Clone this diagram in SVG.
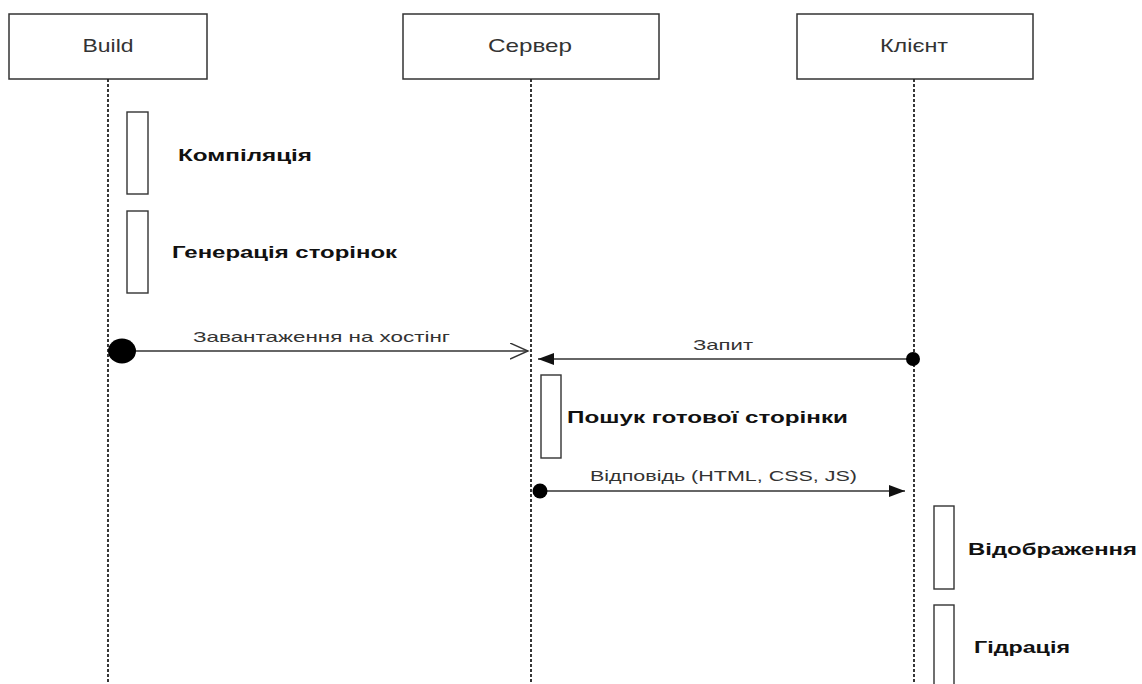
<svg xmlns="http://www.w3.org/2000/svg" width="1142" height="684" viewBox="0 0 1142 684">
<style>
.box{fill:#fff;stroke:#333;stroke-width:1.5}
.act{fill:#fff;stroke:#333;stroke-width:1.4}
.life{stroke:#222;stroke-width:1.8;stroke-dasharray:3 2;fill:none}
.msg{stroke:#333;stroke-width:1.4;fill:none}
.hd{font-family:"Liberation Sans",Arial,sans-serif;font-size:19px;fill:#333;text-anchor:middle}
.lbl{font-family:"Liberation Sans",Arial,sans-serif;font-size:15px;fill:#333}
.act-lbl{font-family:"Liberation Sans",Arial,sans-serif;font-size:17px;font-weight:bold;fill:#111}
</style>
<defs>
<marker id="open" markerWidth="20" markerHeight="20" refX="18" refY="8" orient="auto" markerUnits="userSpaceOnUse">
<path d="M0,0 L18,8 L0,16" fill="none" stroke="#333" stroke-width="1.4"/>
</marker>
<marker id="fill" markerWidth="20" markerHeight="14" refX="16" refY="6" orient="auto" markerUnits="userSpaceOnUse">
<path d="M0,0 L16,6 L0,12 Z" fill="#111"/>
</marker>
</defs>
<rect width="1142" height="684" fill="#fff"/>

<g id="build">
<rect class="box" x="9" y="14" width="198" height="65"/>
<text class="hd" x="108" y="52" textLength="51" lengthAdjust="spacingAndGlyphs">Build</text>
<line class="life" x1="108" y1="79" x2="108" y2="684"/>
</g>
<g id="server">
<rect class="box" x="403" y="14" width="256" height="65"/>
<text class="hd" x="530" y="52" textLength="84" lengthAdjust="spacingAndGlyphs">Сервер</text>
<line class="life" x1="531" y1="79" x2="531" y2="684"/>
</g>
<g id="client">
<rect class="box" x="797" y="14" width="236" height="65"/>
<text class="hd" x="914" y="52" textLength="68" lengthAdjust="spacingAndGlyphs">Клієнт</text>
<line class="life" x1="914" y1="79" x2="914" y2="684"/>
</g>

<g id="compile">
<rect class="act" x="127" y="112" width="21" height="82"/>
<text class="act-lbl" x="178" y="161" textLength="134" lengthAdjust="spacingAndGlyphs">Компіляція</text>
</g>
<g id="generate">
<rect class="act" x="127" y="211" width="21" height="82"/>
<text class="act-lbl" x="172" y="258" textLength="225" lengthAdjust="spacingAndGlyphs">Генерація сторінок</text>
</g>
<g id="search">
<rect class="act" x="541" y="375" width="20" height="83"/>
<text class="act-lbl" x="567" y="423" font-size="18" textLength="281" lengthAdjust="spacingAndGlyphs">Пошук готової сторінки</text>
</g>
<g id="render">
<rect class="act" x="934" y="506" width="20" height="83"/>
<text class="act-lbl" x="968" y="555" textLength="169" lengthAdjust="spacingAndGlyphs">Відображення</text>
</g>
<g id="hydrate">
<rect class="act" x="934" y="605" width="20" height="90"/>
<text class="act-lbl" x="974" y="653" textLength="96" lengthAdjust="spacingAndGlyphs">Гідрація</text>
</g>

<g id="connectors">
<line class="msg" x1="122" y1="351" x2="528" y2="351" marker-end="url(#open)"/>
<ellipse cx="122" cy="351" rx="14" ry="12.5" fill="#000"/>
<text class="lbl" x="193" y="342" textLength="257" lengthAdjust="spacingAndGlyphs">Завантаження на хостінг</text>

<line class="msg" x1="913" y1="359" x2="538" y2="359" marker-end="url(#fill)"/>
<circle cx="913" cy="359" r="7" fill="#000"/>
<text class="lbl" x="693" y="350" textLength="60" lengthAdjust="spacingAndGlyphs">Запит</text>

<line class="msg" x1="540" y1="491" x2="905" y2="491" marker-end="url(#fill)"/>
<circle cx="540" cy="491" r="7.5" fill="#000"/>
<text class="lbl" x="590" y="481" textLength="267" lengthAdjust="spacingAndGlyphs">Відповідь (HTML, CSS, JS)</text>
</g>
</svg>
